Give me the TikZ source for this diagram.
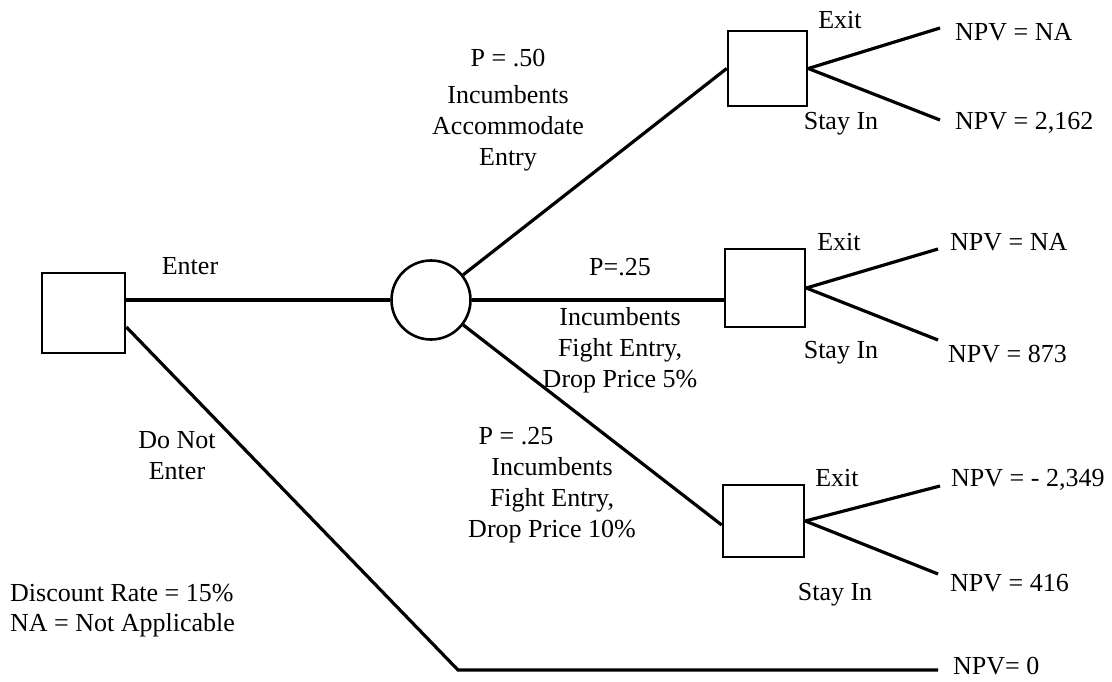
\documentclass[tikz,border=0pt]{standalone}
\usepackage{fontspec}
\setmainfont{Liberation Serif}
\usetikzlibrary{calc}
\begin{document}
\begin{tikzpicture}[x=1pt,y=-1pt,
  decision/.style={draw,line width=2.6pt,rectangle,inner sep=0pt},
  chancenode/.style={draw,line width=2.6pt,circle,inner sep=0pt,minimum size=79pt},
  branch/.style={line width=3.2pt},
  lbl/.style={font=\fontsize{26}{31}\selectfont,inner sep=0pt,align=center},
  payoff/.style={font=\fontsize{26}{31}\selectfont,inner sep=0pt,anchor=west}]
\useasboundingbox (0,0) rectangle (1112,681);

% decision and chance nodes
\node[decision,minimum width=83pt,minimum height=80pt] (root) at (83.5,313) {};
\node[chancenode] (chance) at (431,300) {};
\node[decision,minimum width=79pt,minimum height=75pt] (b1) at (767.5,68.5) {};
\node[decision,minimum width=80pt,minimum height=78pt] (b2) at (765,288) {};
\node[decision,minimum width=81pt,minimum height=72pt] (b3) at (763.5,521) {};

% free ends of the branches
\coordinate (e1) at (940,28);
\coordinate (s1) at (940,120);
\coordinate (e2) at (938,249);
\coordinate (s2) at (938,340);
\coordinate (e3) at (940,486);
\coordinate (s3) at (938,574);
\coordinate (corner) at (458,670);
\coordinate (stay0) at (938,670);

% branches
\draw[branch] (root.east |- chance.west) -- (chance.west);
\draw[branch] ([yshift=-14pt]root.east) -- (corner) -- (stay0);
\draw[branch] (chance) -- (b1.west);
\draw[branch] (chance.east) -- (chance.east -| b2.west);
\draw[branch] (chance) -- ([yshift=-4pt]b3.west);
\draw[branch] (b1.east) -- (e1);
\draw[branch] (b1.east) -- (s1);
\draw[branch] (b2.east) -- (e2);
\draw[branch] (b2.east) -- (s2);
\draw[branch] (b3.east) -- (e3);
\draw[branch] (b3.east) -- (s3);

% branch labels
\node[lbl] (tenter) at (190,266) {Enter};
\node[lbl] (tdonot) at (177,456) {Do Not\\Enter};
\node[lbl] (tp50) at (508,58) {P = .50};
\node[lbl] (tacc) at (508,128) {Incumbents\\Accommodate\\Entry};
\node[lbl] (tp25a) at (620,267) {P=.25};
\node[lbl] (tfight5) at (620,350) {Incumbents\\Fight Entry,\\Drop Price 5\%};
\node[lbl] (tp25b) at (516,436) {P = .25};
\node[lbl] (tfight10) at (552,500) {Incumbents\\Fight Entry,\\Drop Price 10\%};

\node[lbl] (x1) at (840,20) {Exit};
\node[lbl] (y1) at (841,124) {Stay In};
\node[lbl] (x2) at (839,242) {Exit};
\node[lbl] (y2) at (841,353) {Stay In};
\node[lbl] (x3) at (837,478) {Exit};
\node[lbl] (y3) at (835,595) {Stay In};

% payoffs
\node[payoff] (n1) at (955,32) {NPV = NA};
\node[payoff] (n2) at (955,123) {NPV = 2,162};
\node[payoff] (n3) at (950,242) {NPV = NA};
\node[payoff] (n4) at (948,354) {NPV = 873};
\node[payoff] (n5) at (951,480) {NPV = - 2,349};
\node[payoff] (n6) at (950,583) {NPV = 416};
\node[payoff] (n7) at (953,666) {NPV= 0};

% legend
\node[payoff] (leg1) at (10,593) {Discount Rate = 15\%};
\node[payoff] (leg2) at (10,625) {NA = Not Applicable};
\end{tikzpicture}
\end{document}
